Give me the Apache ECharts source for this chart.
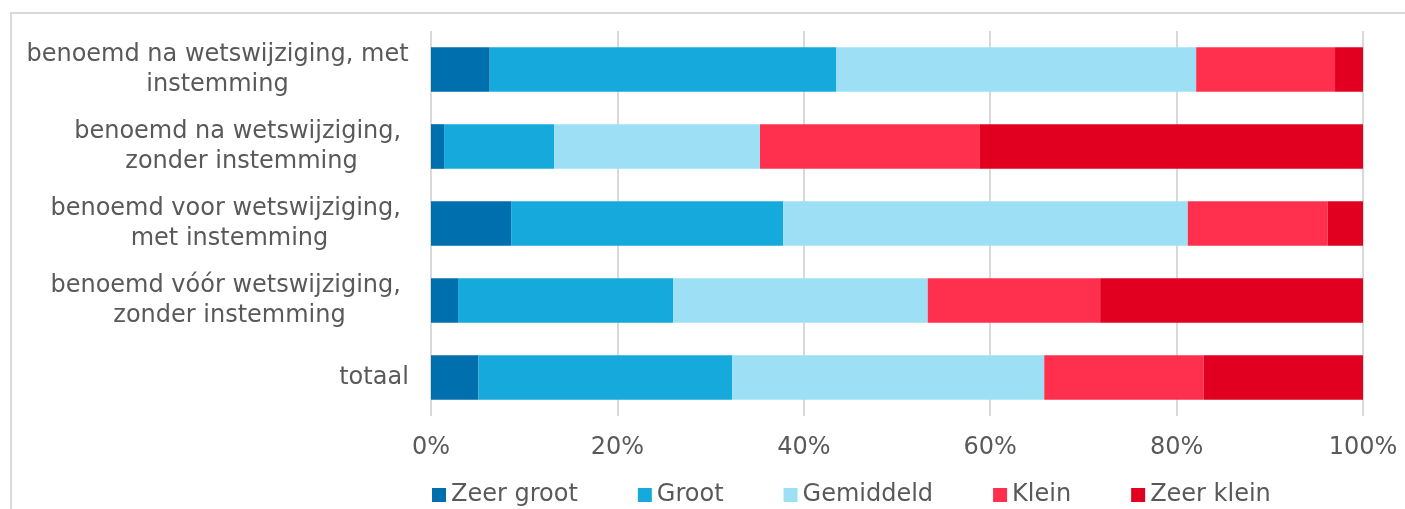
<!DOCTYPE html>
<html>
<head>
<meta charset="utf-8">
<script src="https://cdn.jsdelivr.net/npm/echarts@6/dist/echarts.min.js"></script>
<style>
html,body{margin:0;padding:0;background:#fff;}
#chart{width:1405px;height:509px;}
</style>
</head>
<body>
<div id="chart"></div>
<script>
const categories = [
  'benoemd na wetswijziging, met\ninstemming',
  'benoemd na wetswijziging, \nzonder instemming',
  'benoemd voor wetswijziging, \nmet instemming',
  'benoemd vóór wetswijziging, \nzonder instemming',
  'totaal'
];
const seriesNames = ['Zeer groot', 'Groot', 'Gemiddeld', 'Klein', 'Zeer klein'];
const zeerGroot = [6.3, 1.4, 8.6, 2.9, 5.1];
const groot     = [37.2, 11.8, 29.2, 23.1, 27.2];
const gemiddeld = [38.6, 22.1, 43.4, 27.3, 33.5];
const klein     = [14.9, 23.6, 15.0, 18.5, 17.1];
const zeerKlein = [3.0, 41.1, 3.8, 28.2, 17.1];
const xTicks = [0, 20, 40, 60, 80, 100];

const colors = ['#006FAD', '#15AADB', '#9DE0F6', '#FF304D', '#E10020'];
const textColor = '#595959';
const fontFamily = '"DejaVu Sans", Verdana, sans-serif';
const fontSize = 24;

// measure label lines to center them within a right-aligned block
const cv = document.createElement('canvas').getContext('2d');
cv.font = fontSize + 'px ' + fontFamily;
const rich = {};
categories.forEach((c, i) => {
  const w = Math.max(...c.split('\n').map(l => cv.measureText(l).width));
  rich['c' + i] = {
    width: Math.ceil(w), align: 'center', fontSize: fontSize,
    fontFamily: fontFamily, color: textColor, lineHeight: 30
  };
});

const values = [zeerGroot, groot, gemiddeld, klein, zeerKlein];

const chart = echarts.init(document.getElementById('chart'), null, {renderer: 'canvas'});
chart.setOption({
  animation: false,
  textStyle: {fontFamily: fontFamily},
  graphic: [{
    type: 'rect', silent: true, z: -10,
    shape: {x: 11, y: 13, width: 1600, height: 600},
    style: {fill: 'none', stroke: '#d9d9d9', lineWidth: 2}
  }],
  grid: {left: 431, right: 42, top: 31, bottom: 93, containLabel: false, outerBoundsMode: 'none'},
  xAxis: {
    type: 'value', min: xTicks[0], max: xTicks[xTicks.length - 1], interval: 20,
    axisLine: {show: false}, axisTick: {show: false},
    splitLine: {show: true, lineStyle: {color: '#d9d9d9', width: 2}},
    axisLabel: {
      formatter: '{value}%', color: textColor, fontSize: fontSize,
      fontFamily: fontFamily, margin: 20
    }
  },
  yAxis: {
    type: 'category', data: categories, inverse: true,
    axisLine: {show: false}, axisTick: {show: false},
    axisLabel: {
      margin: 22, color: textColor, fontSize: fontSize, fontFamily: fontFamily,
      formatter: function (value, index) {
        return value.split('\n').map(l => '{c' + index + '|' + l + '}').join('\n');
      },
      rich: rich
    }
  },
  legend: {
    left: 427, top: 478, icon: 'rect', itemWidth: 14, itemHeight: 14, itemGap: 60,
    textStyle: {color: textColor, fontSize: fontSize, fontFamily: fontFamily},
    data: seriesNames
  },
  series: seriesNames.map((name, i) => ({
    name: name, type: 'bar', stack: 'total', barWidth: '58%',
    itemStyle: {color: colors[i]},
    data: values[i]
  }))
});
</script>
</body>
</html>
